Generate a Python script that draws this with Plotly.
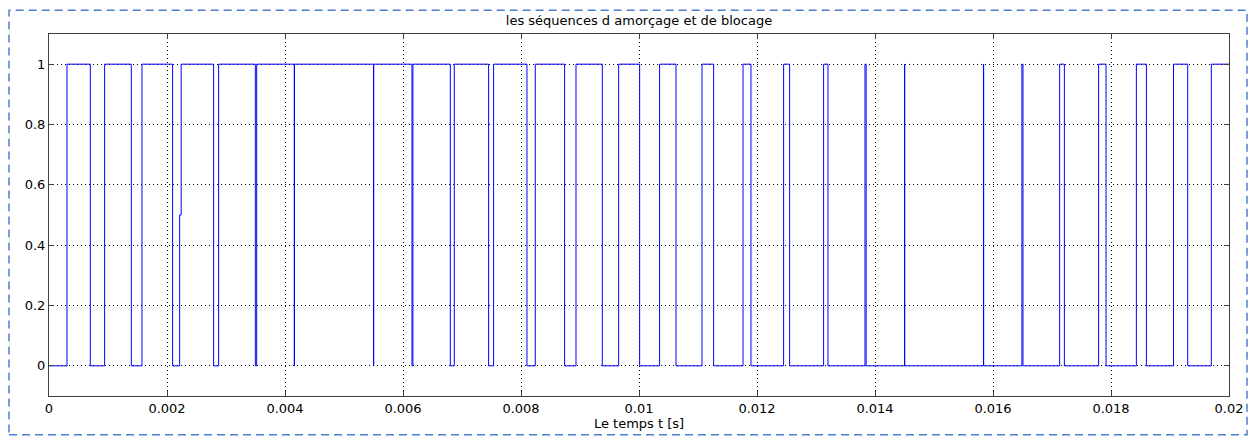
import plotly.graph_objects as go

# switching instants (s) and the level reached at each instant
t_switch = [0.0, 0.000305, 0.000700, 0.000943, 0.001395, 0.001576, 0.002095,
            0.002214, 0.002240, 0.002790, 0.002875, 0.003497, 0.003520,
            0.004157, 0.004161, 0.005500, 0.005504, 0.006152, 0.006168,
            0.006802, 0.006869, 0.007451, 0.007536, 0.008101, 0.008242,
            0.008739, 0.008932, 0.009378, 0.009655, 0.010011, 0.010349,
            0.010627, 0.011068, 0.011265, 0.011763, 0.011898, 0.012451,
            0.012553, 0.013129, 0.013203, 0.013830, 0.013850, 0.014500,
            0.014504, 0.015838, 0.015842, 0.016490, 0.016508, 0.017130,
            0.017210, 0.017790, 0.017916, 0.018430, 0.018600, 0.019060,
            0.019300, 0.019700, 0.020000]
levels = [0, 1, 0, 1, 0, 1, 0,
          0.5, 1, 0, 1, 0, 1,
          0, 1, 0, 1, 0, 1,
          0, 1, 0, 1, 0, 1,
          0, 1, 0, 1, 0, 1,
          0, 1, 0, 1, 0, 1,
          0, 1, 0, 1, 0, 1,
          0, 1, 0, 1, 0, 1,
          0, 1, 0, 1, 0, 1,
          0, 1, 1]

x_tickvals = [0, 0.002, 0.004, 0.006, 0.008, 0.01, 0.012, 0.014, 0.016, 0.018, 0.02]
x_ticktext = ["0", "0.002", "0.004", "0.006", "0.008", "0.01", "0.012",
              "0.014", "0.016", "0.018", "0.02"]
y_tickvals = [0, 0.2, 0.4, 0.6, 0.8, 1]
y_ticktext = ["0", "0.2", "0.4", "0.6", "0.8", "1"]

title_text = "les séquences d amorçage et de blocage"
xlabel = "Le temps t [s]"

W, H = 1257, 440
ml, mr, mt, mb = 49, 28, 34, 42
pw, ph = W - ml - mr, H - mt - mb

fig = go.Figure()
fig.add_trace(go.Scatter(
    x=t_switch, y=levels, mode="lines", line_shape="hv",
    line=dict(color="#0000FF", width=1), hoverinfo="skip", showlegend=False))

font = dict(family="DejaVu Sans, Liberation Sans, Arial, sans-serif", size=13,
            color="#000000")
axis_common = dict(
    showline=True, linecolor="#404040", linewidth=1, mirror="ticks",
    ticks="inside", ticklen=5, tickcolor="#404040",
    showgrid=True, gridcolor="#000000", gridwidth=1, griddash="1px,3px",
    zeroline=False, tickfont=font)

fig.update_xaxes(range=[0, 0.02], tickvals=x_tickvals, ticktext=x_ticktext,
                 title=dict(text=xlabel, font=font, standoff=3), **axis_common)
fig.update_yaxes(range=[-0.1, 1.1], tickvals=y_tickvals, ticktext=y_ticktext,
                 **axis_common)

# dashed frame around the figure (px -> paper)
def px_x(p):
    return (p - ml) / pw

def px_y(p):
    return (H - mb - p) / ph

fig.add_shape(type="rect", xref="paper", yref="paper",
              x0=px_x(9), x1=px_x(1247), y0=px_y(437), y1=px_y(10),
              line=dict(color="#4F7FD0", width=1.5, dash="8px,5px"),
              fillcolor="rgba(0,0,0,0)", layer="above")

fig.update_layout(
    width=W, height=H,
    margin=dict(l=ml, r=mr, t=mt, b=mb),
    paper_bgcolor="white", plot_bgcolor="white",
    title=dict(text=title_text, x=0.5, xref="paper", xanchor="center",
               y=1 - 20 / H, yref="container", yanchor="middle", font=font),
    font=font,
)

fig.write_html("out.html", config={"displayModeBar": False})
